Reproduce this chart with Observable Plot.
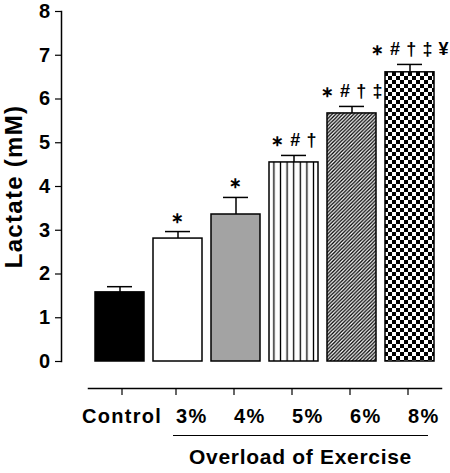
<!DOCTYPE html>
<html><head><meta charset="utf-8">
<script src="https://cdn.jsdelivr.net/npm/d3@7"></script>
<script src="https://cdn.jsdelivr.net/npm/@observablehq/plot@0.6"></script>
<style>
body{margin:0;background:#fff;font-family:"Liberation Sans",Arial,sans-serif;}
#wrap{width:450px;}
#chart svg{display:block;}
#bracket{margin-left:173px;width:255px;border-top:1.5px solid #000;text-align:center;font-weight:bold;font-size:21px;letter-spacing:0.7px;padding-top:10px;line-height:1;color:#000;}
</style></head><body>
<div id="wrap"><div id="chart"></div><div id="bracket"></div></div>
<script>
const categories = ["Control", "3%", "4%", "5%", "6%", "8%"];
const lactateMean = [1.58, 2.81, 3.36, 4.55, 5.67, 6.61];
const lactateSEM = [0.13, 0.16, 0.39, 0.16, 0.16, 0.18];
const significance = ["", "∗", "∗", "∗ # †", "∗ # † ‡", "∗ # † ‡ ¥"];
const yTicks = [0, 1, 2, 3, 4, 5, 6, 7, 8];
const yLabel = "Lactate (mM)";
const groupLabel = "Overload of Exercise";

// styles (not data)
const fills = {"Control": "#000", "3%": "#fff", "4%": "#a3a3a3", "5%": "url(#pat-vert)", "6%": "url(#pat-diag)", "8%": "url(#pat-check)"};

const data = categories.map((c, i) => ({group: c, mean: lactateMean[i], top: lactateMean[i] + lactateSEM[i], sig: significance[i]}));
const yMid = (yTicks[0] + yTicks[yTicks.length - 1]) / 2;

const font = "'Liberation Sans', Arial, sans-serif";
const chart = Plot.plot({
  width: 450, height: 435,
  marginTop: 11, marginLeft: 61, marginRight: 9, marginBottom: 47,
  style: {fontFamily: font, background: "#fff", color: "#000", letterSpacing: "1.3px"},
  x: {domain: categories, paddingInner: 0.16, paddingOuter: 0.335, align: 0.82, axis: null},
  y: {domain: [0, 8], insetBottom: 27, axis: null},
  color: {type: "identity"},
  marks: [
    Plot.ruleX(data, {x: "group", y1: "mean", y2: "top", stroke: "#000", strokeWidth: 1.5}),
    Plot.tickY(data, {x: "group", y: "top", stroke: "#000", strokeWidth: 1.5, insetLeft: 12, insetRight: 12}),
    Plot.barY(data, {x: "group", y: "mean", fill: d => fills[d.group], stroke: "#000", strokeWidth: 1.5}),
    Plot.text(data, {x: "group", y: "top", text: "sig", lineAnchor: "bottom", dy: -9, fontSize: 18, fontWeight: "bold", fill: "#000"}),
    Plot.axisY(yTicks, {tickSize: 6, tickPadding: 4, fontSize: 20, fontWeight: "bold", stroke: "#000", strokeWidth: 1.2, label: null}),
    Plot.axisX(["Control"], {tickSize: 7, tickPadding: 13, fontSize: 20, fontWeight: "bold", dx: 2, stroke: "#000", strokeWidth: 1.2, label: null}),
    Plot.axisX(categories.slice(1), {tickSize: 7, tickPadding: 13, fontSize: 20, fontWeight: "bold", textAnchor: "start", dx: -2, stroke: "#000", strokeWidth: 1.2, label: null}),
    Plot.text([yLabel], {text: d => d, y: () => yMid, frameAnchor: "left", textAnchor: "middle", lineAnchor: "middle", rotate: -90, dx: -47, fontSize: 24, fontWeight: "bold", fill: "#000"}),
    Plot.frame({anchor: "left", insetBottom: 27, stroke: "#000", strokeWidth: 1.5}),
    Plot.frame({anchor: "bottom", insetLeft: 27, stroke: "#000", strokeWidth: 1.5})
  ]
});

const defs = d3.select(chart).insert("defs", ":first-child");
const pv = defs.append("pattern").attr("id", "pat-vert").attr("patternUnits", "userSpaceOnUse").attr("width", 6.6).attr("height", 10);
pv.append("rect").attr("width", 6.6).attr("height", 10).attr("fill", "#fff");
pv.append("line").attr("x1", 3.3).attr("x2", 3.3).attr("y1", 0).attr("y2", 10).attr("stroke", "#000").attr("stroke-width", 1.3);
const pd = defs.append("pattern").attr("id", "pat-diag").attr("patternUnits", "userSpaceOnUse").attr("width", 3.6).attr("height", 3.6);
pd.append("rect").attr("width", 3.6).attr("height", 3.6).attr("fill", "#fff");
pd.append("path").attr("d", "M-0.9,0.9 l1.8,-1.8 M0,3.6 l3.6,-3.6 M2.7,4.5 l1.8,-1.8").attr("stroke", "#000").attr("stroke-width", 1.3);
const pc = defs.append("pattern").attr("id", "pat-check").attr("patternUnits", "userSpaceOnUse").attr("width", 8).attr("height", 8);
pc.append("rect").attr("width", 8).attr("height", 8).attr("fill", "#fff");
pc.append("rect").attr("width", 4).attr("height", 4).attr("fill", "#000");
pc.append("rect").attr("x", 4).attr("y", 4).attr("width", 4).attr("height", 4).attr("fill", "#000");

// shrink the asterisk glyph to match the other symbols, tighten spacing
d3.select(chart).selectAll("text").filter(function() { return this.textContent.includes("∗"); }).each(function() {
  const t = d3.select(this);
  const parts = this.textContent.split("∗");
  t.text(null).attr("letter-spacing", "0.6px");
  parts.forEach((p, i) => {
    if (i > 0) t.append("tspan").attr("font-size", 15).text("∗");
    if (p) t.append("tspan").text(p);
  });
});

document.getElementById("chart").appendChild(chart);
document.getElementById("bracket").textContent = groupLabel;
</script>
</body></html>
